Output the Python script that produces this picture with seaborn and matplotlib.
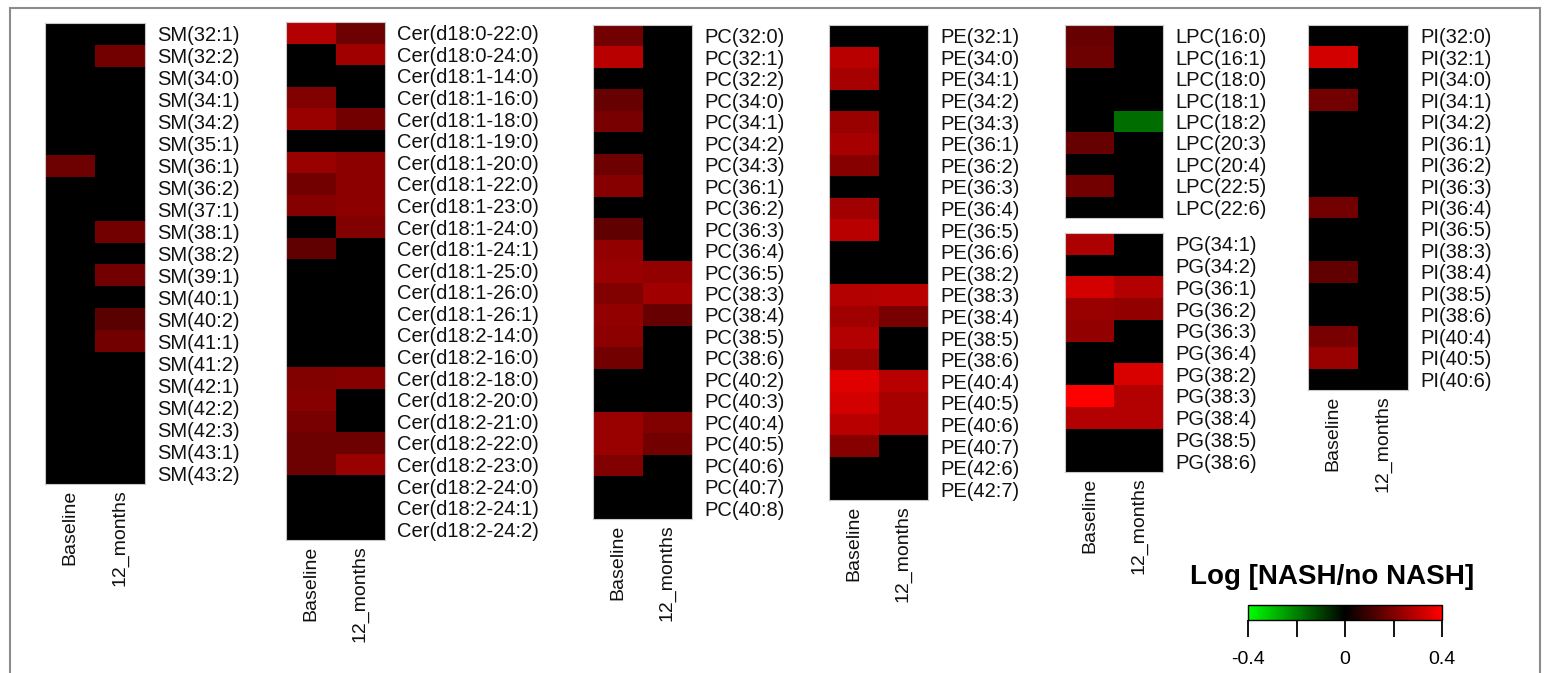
import numpy as np
import pandas as pd
import matplotlib
matplotlib.use("Agg")
import matplotlib.pyplot as plt
import seaborn as sns
from matplotlib.colors import LinearSegmentedColormap
from matplotlib.patches import Rectangle

sns.set_theme(style="white")
plt.rcParams["font.family"] = ["Liberation Sans", "DejaVu Sans"]

groups = ["Baseline", "12_months"]

sm_labels = ["SM(32:1)", "SM(32:2)", "SM(34:0)", "SM(34:1)", "SM(34:2)", "SM(35:1)", "SM(36:1)",
             "SM(36:2)", "SM(37:1)", "SM(38:1)", "SM(38:2)", "SM(39:1)", "SM(40:1)", "SM(40:2)",
             "SM(41:1)", "SM(41:2)", "SM(42:1)", "SM(42:2)", "SM(42:3)", "SM(43:1)", "SM(43:2)"]
sm_base = [0, 0, 0, 0, 0, 0, 0.17, 0, 0, 0, 0, 0, 0, 0, 0, 0, 0, 0, 0, 0, 0]
sm_12m = [0, 0.18, 0, 0, 0, 0, 0, 0, 0, 0.18, 0, 0.18, 0, 0.14, 0.18, 0, 0, 0, 0, 0, 0]

cer_labels = ["Cer(d18:0-22:0)", "Cer(d18:0-24:0)", "Cer(d18:1-14:0)", "Cer(d18:1-16:0)",
              "Cer(d18:1-18:0)", "Cer(d18:1-19:0)", "Cer(d18:1-20:0)", "Cer(d18:1-22:0)",
              "Cer(d18:1-23:0)", "Cer(d18:1-24:0)", "Cer(d18:1-24:1)", "Cer(d18:1-25:0)",
              "Cer(d18:1-26:0)", "Cer(d18:1-26:1)", "Cer(d18:2-14:0)", "Cer(d18:2-16:0)",
              "Cer(d18:2-18:0)", "Cer(d18:2-20:0)", "Cer(d18:2-21:0)", "Cer(d18:2-22:0)",
              "Cer(d18:2-23:0)", "Cer(d18:2-24:0)", "Cer(d18:2-24:1)", "Cer(d18:2-24:2)"]
cer_base = [0.28, 0, 0, 0.20, 0.24, 0, 0.24, 0.18, 0.21, 0, 0.15, 0, 0, 0, 0, 0,
            0.20, 0.21, 0.19, 0.17, 0.17, 0, 0, 0]
cer_12m = [0.17, 0.25, 0, 0, 0.18, 0, 0.22, 0.22, 0.22, 0.20, 0, 0, 0, 0, 0, 0,
           0.21, 0, 0, 0.17, 0.24, 0, 0, 0]

pc_labels = ["PC(32:0)", "PC(32:1)", "PC(32:2)", "PC(34:0)", "PC(34:1)", "PC(34:2)", "PC(34:3)",
             "PC(36:1)", "PC(36:2)", "PC(36:3)", "PC(36:4)", "PC(36:5)", "PC(38:3)", "PC(38:4)",
             "PC(38:5)", "PC(38:6)", "PC(40:2)", "PC(40:3)", "PC(40:4)", "PC(40:5)", "PC(40:6)",
             "PC(40:7)", "PC(40:8)"]
pc_base = [0.18, 0.29, 0, 0.16, 0.19, 0, 0.17, 0.21, 0, 0.15, 0.23, 0.24, 0.20, 0.23,
           0.22, 0.18, 0, 0, 0.24, 0.24, 0.20, 0, 0]
pc_12m = [0, 0, 0, 0, 0, 0, 0, 0, 0, 0, 0, 0.23, 0.25, 0.16, 0, 0, 0, 0, 0.20, 0.18, 0, 0, 0]

pe_labels = ["PE(32:1)", "PE(34:0)", "PE(34:1)", "PE(34:2)", "PE(34:3)", "PE(36:1)", "PE(36:2)",
             "PE(36:3)", "PE(36:4)", "PE(36:5)", "PE(36:6)", "PE(38:2)", "PE(38:3)", "PE(38:4)",
             "PE(38:5)", "PE(38:6)", "PE(40:4)", "PE(40:5)", "PE(40:6)", "PE(40:7)", "PE(42:6)",
             "PE(42:7)"]
pe_base = [0, 0.29, 0.26, 0, 0.24, 0.26, 0.21, 0, 0.25, 0.29, 0, 0, 0.28, 0.25, 0.28, 0.24,
           0.35, 0.33, 0.29, 0.21, 0, 0]
pe_12m = [0, 0, 0, 0, 0, 0, 0, 0, 0, 0, 0, 0, 0.29, 0.19, 0, 0, 0.29, 0.26, 0.26, 0, 0, 0]

lpc_labels = ["LPC(16:0)", "LPC(16:1)", "LPC(18:0)", "LPC(18:1)", "LPC(18:2)", "LPC(20:3)",
              "LPC(20:4)", "LPC(22:5)", "LPC(22:6)"]
lpc_base = [0.16, 0.17, 0, 0, 0, 0.16, 0, 0.18, 0]
lpc_12m = [0, 0, 0, 0, -0.17, 0, 0, 0, 0]

pg_labels = ["PG(34:1)", "PG(34:2)", "PG(36:1)", "PG(36:2)", "PG(36:3)", "PG(36:4)", "PG(38:2)",
             "PG(38:3)", "PG(38:4)", "PG(38:5)", "PG(38:6)"]
pg_base = [0.27, 0, 0.33, 0.24, 0.23, 0, 0, 0.40, 0.28, 0, 0]
pg_12m = [0, 0, 0.28, 0.23, 0, 0, 0.34, 0.28, 0.28, 0, 0]

pi_labels = ["PI(32:0)", "PI(32:1)", "PI(34:0)", "PI(34:1)", "PI(34:2)", "PI(36:1)", "PI(36:2)",
             "PI(36:3)", "PI(36:4)", "PI(36:5)", "PI(38:3)", "PI(38:4)", "PI(38:5)", "PI(38:6)",
             "PI(40:4)", "PI(40:5)", "PI(40:6)"]
pi_base = [0, 0.33, 0, 0.18, 0, 0, 0, 0, 0.18, 0, 0, 0.15, 0, 0, 0.19, 0.24, 0]
pi_12m = [0] * 17

cbar_ticks = [-0.4, -0.2, 0, 0.2, 0.4]
cbar_ticklabels = ["-0.4", "", "0", "", "0.4"]
cbar_title = "Log [NASH/no NASH]"

W, H = 1549, 673
fig = plt.figure(figsize=(W / 100, H / 100), dpi=100)
fig.patch.set_facecolor("white")

cmap = LinearSegmentedColormap.from_list("gkr", ["#00ff00", "#000000", "#ff0000"])

# frame
fig.add_artist(Rectangle((10 / W, -0.1), 1530 / W, 1 - 8 / H + 0.1,
                         transform=fig.transFigure, fill=False,
                         edgecolor="#8c8c8c", lw=1.5))


def panel(labels, base, m12, x, y0, w, y1):
    ax = fig.add_axes([x / W, 1 - y1 / H, w / W, (y1 - y0) / H])
    df = pd.DataFrame({groups[0]: base, groups[1]: m12}, index=labels)
    sns.heatmap(df, ax=ax, cmap=cmap, vmin=-0.4, vmax=0.4, cbar=False,
                xticklabels=True, yticklabels=True)
    ax.yaxis.tick_right()
    ax.set_yticks(np.arange(len(labels)) + 0.5)
    ax.set_yticklabels(labels, rotation=0, fontsize=14.5, color="#111111")
    ax.set_xticklabels(groups, rotation=90, fontsize=14, color="#111111")
    ax.tick_params(axis="y", length=0, pad=9)
    ax.tick_params(axis="x", length=0, pad=4)
    ax.set_xlabel("")
    ax.set_ylabel("")
    for s in ax.spines.values():
        s.set_visible(True)
        s.set_edgecolor("#c8c8c8")
        s.set_linewidth(0.8)
    return ax


panel(sm_labels, sm_base, sm_12m, 45, 23, 100, 484)
panel(cer_labels, cer_base, cer_12m, 286, 22, 99, 540)
panel(pc_labels, pc_base, pc_12m, 593, 25, 99, 519)
panel(pe_labels, pe_base, pe_12m, 829, 25, 99, 500)
ax_lpc = panel(lpc_labels, lpc_base, lpc_12m, 1065, 25, 98, 218)
ax_lpc.set_xticklabels([])
panel(pg_labels, pg_base, pg_12m, 1065, 233, 98, 472)
ax_pi = panel(pi_labels, pi_base, pi_12m, 1308, 25, 100, 390)

# colour key
cax = fig.add_axes([1248 / W, 1 - 620 / H, 194 / W, 15 / H])
cb = fig.colorbar(ax_pi.collections[0], cax=cax, orientation="horizontal", ticks=cbar_ticks)
cb.ax.set_xticklabels(cbar_ticklabels)
cb.ax.tick_params(bottom=True, length=12, width=1.3, direction="out", pad=10,
                  labelsize=14, colors="black")
cb.outline.set_edgecolor("black")
cb.outline.set_linewidth(1.0)

fig.text(1332 / W, 1 - 577 / H, cbar_title, fontsize=20, fontweight="bold",
         ha="center", va="center", color="black")

fig.savefig("out.png", dpi=100)
